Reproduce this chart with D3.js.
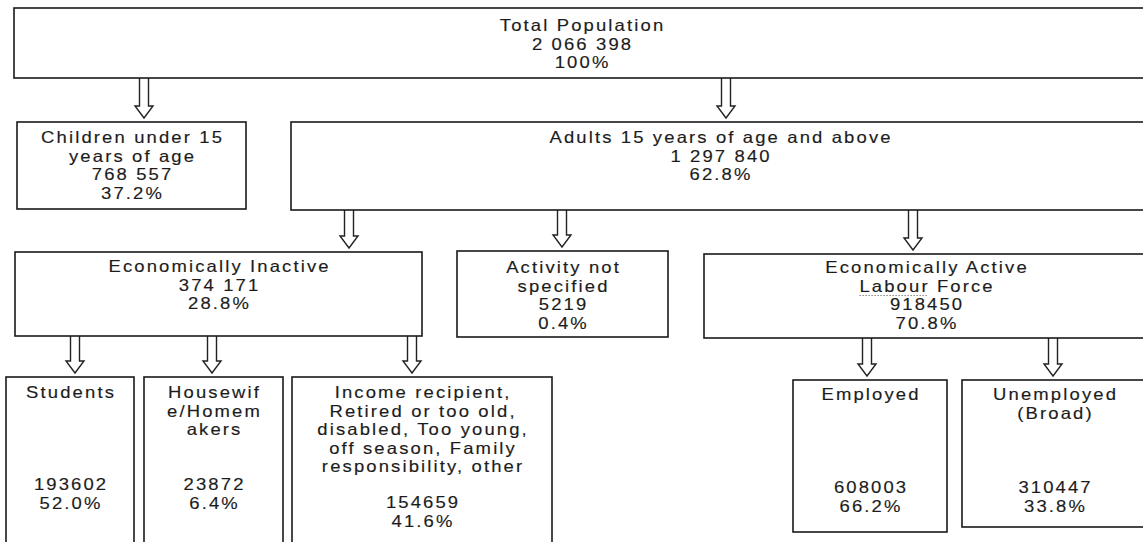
<!DOCTYPE html>
<html>
<head>
<meta charset="utf-8">
<script src="https://cdn.jsdelivr.net/npm/d3@7"></script>
<style>
  body { margin: 0; background: #fff; }
  text { font-family: "Liberation Sans", Arial, sans-serif; font-size: 16.5px; letter-spacing: 1.9px;
         fill: #1c1c1c; stroke: #1c1c1c; stroke-width: 0.15px; }
</style>
</head>
<body>
<div id="chart"></div>
<script>
var svgWidth = 1143;
var svgHeight = 542;

// node data
var nodeIds = ["total", "children", "adults", "inactive", "notspec", "active",
  "students", "housewives", "income", "employed", "unemployed"];
var nodeParents = ["", "total", "total", "adults", "adults", "adults",
  "inactive", "inactive", "inactive", "active", "active"];
var nodeLabels = [
  ["Total Population"],
  ["Children under 15", "years of age"],
  ["Adults 15 years of age and above"],
  ["Economically Inactive"],
  ["Activity not", "specified"],
  ["Economically Active", "Labour Force"],
  ["Students"],
  ["Housewif", "e/Homem", "akers"],
  ["Income recipient,", "Retired or too old,", "disabled, Too young,", "off season, Family", "responsibility, other"],
  ["Employed"],
  ["Unemployed", "(Broad)"]
];
var nodeCounts = ["2 066 398", "768 557", "1 297 840", "374 171", "5219", "918450",
  "193602", "23872", "154659", "608003", "310447"];
var nodeShares = ["100%", "37.2%", "62.8%", "28.8%", "0.4%", "70.8%",
  "52.0%", "6.4%", "41.6%", "66.2%", "33.8%"];

// box layout (x, y, width, height, first baseline, number baseline, arrow x)
var layout = {
  total:      {x: 14,  y: 8,   w: 1135, h: 70,  ty: 31},
  children:   {x: 17,  y: 122, w: 229,  h: 87,  ty: 143, ax: 144},
  adults:     {x: 291, y: 122, w: 858,  h: 88,  ty: 143, ax: 726},
  inactive:   {x: 15,  y: 252, w: 407,  h: 84,  ty: 272, ax: 349},
  notspec:    {x: 457, y: 251, w: 211,  h: 86,  ty: 273, ax: 562},
  active:     {x: 704, y: 254, w: 444,  h: 84,  ty: 273, ax: 913},
  students:   {x: 6,   y: 377, w: 128,  h: 175, ty: 398, ny: 490, ax: 75},
  housewives: {x: 144, y: 377, w: 139,  h: 175, ty: 398, ny: 490, ax: 212},
  income:     {x: 292, y: 377, w: 260,  h: 175, ty: 398, ny: 508, ax: 412},
  employed:   {x: 793, y: 380, w: 154,  h: 152, ty: 400, ny: 493, ax: 867},
  unemployed: {x: 962, y: 380, w: 185,  h: 147, ty: 400, ny: 493, ax: 1053}
};
var lineH = 18.5;
var ls = 1.9;
var stretch = 1.12;

var table = nodeIds.map(function(id, i) {
  return {id: id, parent: nodeParents[i] || null, label: nodeLabels[i],
    count: nodeCounts[i], share: nodeShares[i]};
});
var root = d3.stratify().id(d => d.id).parentId(d => d.parent)(table);

var svg = d3.select("#chart")
  .append("svg")
  .attr("width", svgWidth)
  .attr("height", svgHeight);

// arrows
var arrow = function(x, y0, y1) {
  var p = d3.path();
  p.moveTo(x - 4.5, y0);
  p.lineTo(x - 4.5, y1 - 12);
  p.lineTo(x - 9, y1 - 12);
  p.lineTo(x, y1);
  p.lineTo(x + 9, y1 - 12);
  p.lineTo(x + 4.5, y1 - 12);
  p.lineTo(x + 4.5, y0);
  return p.toString();
};

svg.selectAll("path.arrow")
  .data(root.links())
  .enter()
  .append("path")
  .attr("class", "arrow")
  .attr("d", function(l) {
    var s = layout[l.source.id], t = layout[l.target.id];
    return arrow(t.ax, s.y + s.h, t.y - 4);
  })
  .attr("fill", "none")
  .attr("stroke", "#222")
  .attr("stroke-width", 1.4);

// boxes
var nodes = svg.selectAll("g.node")
  .data(root.descendants())
  .enter()
  .append("g")
  .attr("class", "node");

nodes.append("rect")
  .attr("x", d => layout[d.id].x)
  .attr("y", d => layout[d.id].y)
  .attr("width", d => layout[d.id].w)
  .attr("height", d => layout[d.id].h)
  .attr("fill", "#fff")
  .attr("stroke", "#1a1a1a")
  .attr("stroke-width", 1.6);

nodes.each(function(d) {
  var b = layout[d.id];
  var cx = b.x + b.w / 2 + ls * stretch / 2;
  var lines = d.data.label.map((t, i) => ({t: t, y: b.ty + i * lineH}));
  var ny = b.ny || (b.ty + d.data.label.length * lineH);
  lines.push({t: d.data.count, y: ny});
  lines.push({t: d.data.share, y: ny + lineH});
  d3.select(this).selectAll("text")
    .data(lines)
    .enter()
    .append("text")
    .attr("transform", l => `translate(${cx},${l.y}) scale(${stretch},1)`)
    .attr("text-anchor", "middle")
    .attr("data-cx", cx)
    .attr("data-y", l => l.y)
    .text(l => l.t);
});

// spell-check squiggle under "Labour"
var lab = svg.selectAll("text").filter(function() { return d3.select(this).text() === "Labour Force"; }).node();
if (lab) {
  var cx = +lab.getAttribute("data-cx");
  var x0 = cx + stretch * lab.getStartPositionOfChar(0).x;
  var x1 = cx + stretch * (lab.getEndPositionOfChar(5).x - ls);
  var y = +lab.getAttribute("data-y") + 4;
  svg.append("line")
    .attr("x1", x0).attr("x2", x1)
    .attr("y1", y).attr("y2", y)
    .attr("stroke", "#888")
    .attr("stroke-width", 1.2)
    .attr("stroke-dasharray", "1.5,1.5");
}
</script>
</body>
</html>
